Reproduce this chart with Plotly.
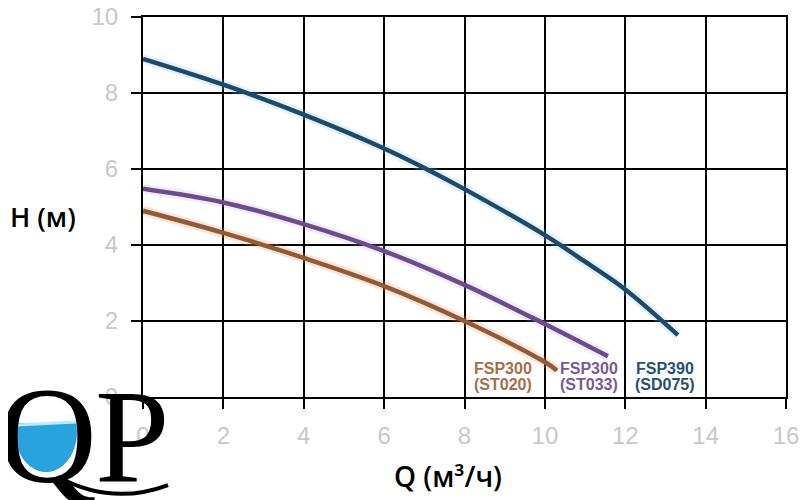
import numpy as np
import plotly.graph_objects as go

# Pump curves: flow Q (m3/h) vs head H (m)
q_sd075 = [0, 2, 4, 6, 7.05, 8, 10, 11, 12, 13.31]
h_sd075 = [8.9, 8.22, 7.43, 6.54, 6.0, 5.47, 4.26, 3.56, 2.83, 1.63]

q_st033 = [0, 2, 4, 6, 8, 10, 11.57]
h_st033 = [5.48, 5.12, 4.55, 3.84, 2.95, 1.92, 1.07]

q_st020 = [0, 2, 4, 6, 8, 10, 10.3]
h_st020 = [4.9, 4.32, 3.66, 2.92, 2.0, 0.92, 0.7]

models = ["FSP390", "FSP300", "FSP300"]
codes = ["(SD075)", "(ST033)", "(ST020)"]
label_q = [12.98, 11.09, 8.97]
model_h = [0.76, 0.76, 0.76]
code_h = [0.32, 0.32, 0.32]

x_ticks = [0, 2, 4, 6, 8, 10, 12, 14, 16]
y_ticks = [0, 2, 4, 6, 8, 10]

colors = ["#1e4a6a", "#6b4d8c", "#8f5b39"]
label_colors = ["#25506f", "#775a98", "#a56e48"]
glows = ["rgba(150,200,240,0.25)", "rgba(190,160,230,0.2)", "rgba(245,150,90,0.25)"]

fig = go.Figure()
curves = [(q_sd075, h_sd075), (q_st033, h_st033), (q_st020, h_st020)]
for (q, h), c, g in zip(curves, colors, glows):
    fig.add_trace(go.Scatter(x=q, y=h, mode="lines", line=dict(color=g, width=10, shape="spline"),
                             hoverinfo="skip", showlegend=False))
    fig.add_trace(go.Scatter(x=q, y=h, mode="lines", line=dict(color=c, width=4.5, shape="spline"),
                             showlegend=False))

label_font = dict(family="Liberation Sans, Arial", size=16)
for m, code, x, y1, y2, c in zip(models, codes, label_q, model_h, code_h, label_colors):
    fig.add_annotation(x=x, y=y1, text="<b>%s</b>" % m, showarrow=False, font=dict(color=c, **label_font))
    fig.add_annotation(x=x, y=y2, text="<b>%s</b>" % code, showarrow=False, font=dict(color=c, **label_font))


def px(x):
    return (x - 143) / 643


def py(y):
    return (397 - y) / 380


# axis titles
fig.add_annotation(xref="paper", yref="paper", x=px(448), y=py(476), xanchor="center", yanchor="middle",
                   text="Q (м³/ч)", showarrow=False,
                   font=dict(family="Open Sans", size=28, color="black", weight=600))
fig.add_annotation(xref="paper", yref="paper", x=px(43), y=py(216), xanchor="center", yanchor="middle",
                   text="H (м)", showarrow=False,
                   font=dict(family="Open Sans", size=27, color="black", weight=600))

# QP logo: water inside the Q, the swash of its tail, then the letters
t = np.linspace(np.pi + 0.23, -0.23, 40)
wx = 46 + 31 * np.cos(t)
wy = 432 + 40 * np.sin(t)
path = "M " + " L ".join("%.4f,%.4f" % (px(a), py(b)) for a, b in zip(wx, wy)) + " Z"
fig.add_shape(type="path", path=path, xref="paper", yref="paper", layer="above",
              fillcolor="#2aa2de", line=dict(width=0))
fig.add_shape(type="line", xref="paper", yref="paper", layer="above",
              x0=px(17), y0=py(425), x1=px(76), y1=py(422), line=dict(color="#b8ecfb", width=3))
tail = "M %.4f,%.4f Q %.4f,%.4f %.4f,%.4f" % (px(58), py(477), px(112), py(506), px(168), py(485))
fig.add_shape(type="path", path=tail, xref="paper", yref="paper", layer="above",
              line=dict(color="black", width=4))
fig.add_annotation(xref="paper", yref="paper", x=px(-4), y=py(436), xanchor="left", yanchor="middle",
                   text="Q", showarrow=False,
                   font=dict(family="Liberation Serif, Times New Roman", size=137, color="black"))
fig.add_annotation(xref="paper", yref="paper", x=px(93), y=py(436), xanchor="left", yanchor="middle",
                   text="P", showarrow=False,
                   font=dict(family="Liberation Serif, Times New Roman", size=134, color="black"))

axis_common = dict(
    showgrid=True, gridcolor="black", gridwidth=2,
    showline=True, linecolor="black", linewidth=2, mirror=True,
    ticks="outside", ticklen=10, tickwidth=2, tickcolor="black",
    zeroline=False, automargin=False, ticklabeloverflow="allow",
    tickfont=dict(family="Liberation Sans, Arial", size=24, color="#c8c8c8"),
)

fig.update_xaxes(range=[0, 16], tickvals=x_ticks, ticklabelstandoff=6, **axis_common)
fig.update_yaxes(range=[0, 10], tickvals=y_ticks, ticklabelstandoff=8, **axis_common)

# the page adds an 8 px body margin, so margins are shifted by that
fig.update_layout(
    width=810, height=500,
    margin=dict(l=135, r=32, t=9, b=111),
    plot_bgcolor="white", paper_bgcolor="white",
)

fig.write_html("out.html")
